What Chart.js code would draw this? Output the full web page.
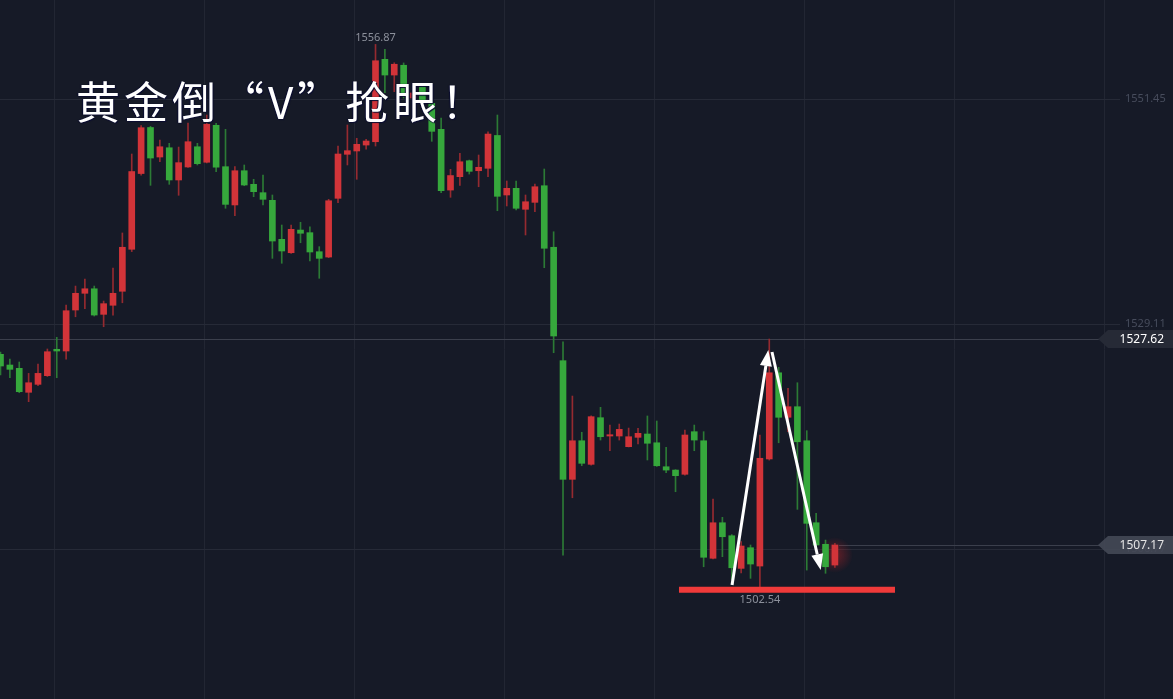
<!DOCTYPE html>
<html lang="zh-CN">
<head>
<meta charset="utf-8">
<title>黄金倒V</title>
<script src="https://cdn.jsdelivr.net/npm/chart.js@4.4.1/dist/chart.umd.min.js"></script>
<style>
    html, body { margin: 0; padding: 0; background: #161a27; }
    #wrap { position: relative; width: 1173px; height: 699px; background: #161a27; }
    #headline {
        position: absolute; left: 76px; top: 78px;
        font-family: "Noto Sans CJK SC", sans-serif; font-size: 44px; font-weight: 400;
        letter-spacing: 4px; line-height: 1; color: #ffffff; white-space: nowrap;
        text-shadow: 1px 1px 1px #0a0c30, -1px 0 1px #0a0c30;
    }
</style>
</head>
<body>
<div id="wrap">
    <canvas id="kChart"></canvas>
    <div id="headline">黄金倒“V”抢眼！</div>
</div>
<script>
// candle data (one entry per bar, oldest first)
const opens = [1526.10, 1525.04, 1524.71, 1522.33, 1523.12, 1523.98, 1526.60, 1526.43, 1530.50, 1532.16,
    1532.61, 1530.07, 1530.97, 1532.36, 1536.53, 1544.05, 1548.62, 1545.69, 1546.61, 1543.41,
    1544.70, 1546.71, 1545.17, 1548.84, 1544.73, 1540.93, 1544.33, 1542.98, 1542.15, 1541.39,
    1537.52, 1536.19, 1538.44, 1538.18, 1536.29, 1535.76, 1541.59, 1545.96, 1546.29, 1546.88,
    1547.21, 1555.39, 1553.83, 1554.80, 1551.55, 1552.64, 1551.02, 1548.44, 1542.41, 1543.74,
    1545.32, 1544.33, 1544.57, 1547.83, 1541.92, 1542.58, 1540.50, 1541.19, 1542.84, 1536.73,
    1525.47, 1513.69, 1517.52, 1515.18, 1519.81, 1517.99, 1517.99, 1516.93, 1517.86, 1518.19,
    1517.32, 1514.94, 1514.61, 1514.19, 1518.42, 1517.52, 1505.85, 1509.38, 1508.09, 1504.85,
    1506.90, 1505.08, 1515.71, 1524.27, 1519.85, 1520.90, 1517.52, 1509.38, 1507.24, 1505.18];
const highs = [1526.33, 1525.63, 1525.34, 1524.21, 1525.14, 1526.63, 1527.79, 1531.00, 1532.88, 1533.58,
    1532.88, 1531.39, 1534.67, 1538.15, 1545.99, 1548.80, 1548.74, 1547.38, 1547.05, 1546.68,
    1549.07, 1547.05, 1549.86, 1549.04, 1548.44, 1544.73, 1544.90, 1543.48, 1543.90, 1541.92,
    1538.94, 1538.94, 1539.21, 1538.77, 1536.79, 1541.49, 1546.78, 1548.87, 1547.55, 1547.45,
    1556.87, 1556.38, 1555.05, 1555.03, 1552.34, 1552.94, 1551.42, 1549.56, 1544.47, 1546.06,
    1545.39, 1545.89, 1548.20, 1549.86, 1543.31, 1543.31, 1541.92, 1543.01, 1544.50, 1538.27,
    1527.35, 1521.96, 1518.36, 1520.00, 1520.84, 1519.08, 1519.18, 1518.78, 1518.75, 1519.98,
    1519.48, 1516.87, 1514.65, 1518.58, 1519.08, 1518.42, 1511.73, 1509.92, 1508.20, 1507.50,
    1507.17, 1518.09, 1527.62, 1524.81, 1522.73, 1523.28, 1518.52, 1510.31, 1507.66, 1507.34];
const lows = [1524.05, 1523.78, 1522.29, 1521.40, 1523.00, 1523.90, 1523.78, 1525.63, 1529.83, 1530.63,
    1529.90, 1528.84, 1530.00, 1531.22, 1536.30, 1543.90, 1542.88, 1545.22, 1542.98, 1541.89,
    1544.65, 1544.90, 1545.10, 1544.23, 1540.60, 1539.86, 1542.84, 1541.75, 1540.93, 1535.63,
    1535.14, 1536.12, 1537.18, 1535.37, 1533.65, 1535.70, 1541.15, 1544.90, 1543.48, 1546.46,
    1546.78, 1552.08, 1552.18, 1551.55, 1551.35, 1550.85, 1547.25, 1542.15, 1541.69, 1542.86,
    1544.00, 1542.74, 1543.74, 1540.36, 1540.83, 1540.45, 1537.95, 1540.26, 1534.70, 1526.26,
    1506.17, 1511.86, 1515.04, 1515.10, 1517.59, 1516.53, 1517.59, 1516.90, 1517.20, 1515.61,
    1514.97, 1514.35, 1512.46, 1514.10, 1516.53, 1505.01, 1505.80, 1506.01, 1503.69, 1504.41,
    1503.86, 1502.54, 1515.60, 1517.32, 1518.42, 1510.71, 1504.68, 1506.87, 1504.36, 1504.95];
const closes = [1524.94, 1524.61, 1522.39, 1523.28, 1524.21, 1526.36, 1526.43, 1530.43, 1532.16, 1532.61,
    1530.00, 1531.13, 1532.16, 1536.73, 1544.25, 1548.60, 1545.59, 1546.71, 1543.41, 1545.13,
    1547.21, 1545.03, 1548.94, 1544.68, 1540.99, 1544.33, 1542.91, 1542.25, 1541.49, 1537.35,
    1536.36, 1538.51, 1538.12, 1536.26, 1535.63, 1541.35, 1545.99, 1546.32, 1546.95, 1547.28,
    1555.25, 1553.83, 1554.90, 1551.85, 1552.05, 1551.05, 1548.24, 1542.35, 1543.85, 1545.22,
    1544.27, 1544.67, 1547.97, 1541.79, 1542.58, 1540.60, 1541.25, 1542.74, 1536.63, 1527.92,
    1513.69, 1517.52, 1515.28, 1519.91, 1517.92, 1518.12, 1518.65, 1517.92, 1518.26, 1517.27,
    1515.04, 1514.61, 1514.05, 1518.09, 1517.59, 1505.95, 1509.38, 1507.99, 1504.91, 1507.07,
    1505.28, 1515.78, 1524.27, 1519.85, 1520.90, 1517.42, 1509.32, 1507.17, 1505.01, 1507.17];

// axis ticks
const priceTicks = [1506.77, 1529.11, 1551.45];
const gridColumns = [5.81, 21.81, 37.81, 53.81, 69.81, 85.81, 101.81, 117.81];

// markers on the chart
const highIndex = 40, highValue = 1556.87;
const lowIndex = 81, lowValue = 1502.54;
const priceLine = 1527.62;
const lastPrice = 1507.17;
const supportLevel = 1502.72;
const supportSpan = [72.37, 95.41];
const arrowUp = [[78.03, 1503.19], [81.90, 1526.53]];
const arrowDown = [[82.29, 1526.33], [87.49, 1504.68]];

const UP = '#d23439', DOWN = '#36a83c';
const UP_WICK = '#952a30', DOWN_WICK = '#2c7a35';

const isUp = closes.map((c, i) => c >= opens[i]);
const bodyData = opens.map((o, i) => ({ x: i, y: [o, closes[i]] }));
const wickData = lows.map((l, i) => ({ x: i, y: [l, highs[i]] }));

function drawTag(ctx, y, fill, textColor, text) {
    ctx.save();
    ctx.fillStyle = fill;
    ctx.beginPath();
    ctx.moveTo(1098, y);
    ctx.lineTo(1108, y - 9);
    ctx.lineTo(1173, y - 9);
    ctx.lineTo(1173, y + 9);
    ctx.lineTo(1108, y + 9);
    ctx.closePath();
    ctx.fill();
    ctx.fillStyle = textColor;
    ctx.font = '12px "Noto Sans", sans-serif';
    ctx.textAlign = 'right';
    ctx.textBaseline = 'middle';
    ctx.fillText(text, 1164, y + 1);
    ctx.restore();
}

function drawArrow(ctx, x1, y1, x2, y2) {
    const ang = Math.atan2(y2 - y1, x2 - x1);
    const len = 16, half = 6;
    const bx = x2 - Math.cos(ang) * len, by = y2 - Math.sin(ang) * len;
    ctx.save();
    ctx.strokeStyle = '#ffffff';
    ctx.fillStyle = '#ffffff';
    ctx.lineWidth = 3;
    ctx.beginPath();
    ctx.moveTo(x1, y1);
    ctx.lineTo(bx, by);
    ctx.stroke();
    ctx.beginPath();
    ctx.moveTo(x2, y2);
    ctx.lineTo(bx + Math.sin(ang) * half, by - Math.cos(ang) * half);
    ctx.lineTo(bx - Math.sin(ang) * half, by + Math.cos(ang) * half);
    ctx.closePath();
    ctx.fill();
    ctx.restore();
}

const overlayPlugin = {
    id: 'overlay',
    beforeDatasetsDraw(chart) {
        const ctx = chart.ctx, xs = chart.scales.x, ys = chart.scales.y;
        ctx.save();
        // current price lines
        ctx.strokeStyle = '#3b3f4c';
        ctx.lineWidth = 1;
        let y = Math.round(ys.getPixelForValue(priceLine)) + 0.5;
        ctx.beginPath(); ctx.moveTo(0, y); ctx.lineTo(1100, y); ctx.stroke();
        const last = opens.length - 1;
        y = Math.round(ys.getPixelForValue(lastPrice)) + 0.5;
        ctx.beginPath(); ctx.moveTo(xs.getPixelForValue(last) + 4, y); ctx.lineTo(1100, y); ctx.stroke();
        // glow on the live candle
        const gx = xs.getPixelForValue(last);
        const gy = ys.getPixelForValue((opens[last] + closes[last]) / 2);
        const g = ctx.createRadialGradient(gx, gy, 0, gx, gy, 18);
        g.addColorStop(0, 'rgba(255,40,40,0.35)');
        g.addColorStop(1, 'rgba(255,40,40,0)');
        ctx.fillStyle = g;
        ctx.fillRect(gx - 20, gy - 20, 40, 40);
        ctx.restore();
    },
    afterDatasetsDraw(chart) {
        const ctx = chart.ctx, xs = chart.scales.x, ys = chart.scales.y;
        ctx.save();
        // support bar
        ctx.strokeStyle = '#f03a3a';
        ctx.lineWidth = 6;
        const sy = ys.getPixelForValue(supportLevel);
        ctx.beginPath();
        ctx.moveTo(xs.getPixelForValue(supportSpan[0]), sy);
        ctx.lineTo(xs.getPixelForValue(supportSpan[1]), sy);
        ctx.stroke();
        // V arrows
        [arrowUp, arrowDown].forEach(a => {
            drawArrow(ctx, xs.getPixelForValue(a[0][0]), ys.getPixelForValue(a[0][1]),
                xs.getPixelForValue(a[1][0]), ys.getPixelForValue(a[1][1]));
        });
        // high / low labels
        ctx.font = '11px "Noto Sans", sans-serif';
        ctx.textAlign = 'center';
        ctx.fillStyle = '#8c909b';
        ctx.textBaseline = 'bottom';
        ctx.fillText(highValue.toFixed(2), xs.getPixelForValue(highIndex), ys.getPixelForValue(highValue) - 1);
        ctx.textBaseline = 'top';
        ctx.fillText(lowValue.toFixed(2), xs.getPixelForValue(lowIndex), ys.getPixelForValue(lowValue) + 3);
        ctx.restore();
        // price tags on the right
        drawTag(ctx, Math.round(ys.getPixelForValue(priceLine)), '#262a36', '#ffffff', priceLine.toFixed(2));
        drawTag(ctx, Math.round(ys.getPixelForValue(lastPrice)), 'rgba(70,74,88,0.88)', '#e4e4e4', lastPrice.toFixed(2));
    }
};

new Chart(document.getElementById('kChart'), {
    type: 'bar',
    data: {
        datasets: [
            {
                label: 'body',
                data: bodyData,
                backgroundColor: isUp.map(u => u ? UP : DOWN),
                barThickness: 6,
                minBarLength: 1,
                borderWidth: 0,
                grouped: false
            },
            {
                label: 'wick',
                data: wickData,
                backgroundColor: isUp.map(u => u ? UP_WICK : DOWN_WICK),
                barThickness: 1,
                borderWidth: 0,
                grouped: false
            }
        ]
    },
    options: {
        responsive: true,
        maintainAspectRatio: false,
        animation: false,
        layout: { padding: 0, autoPadding: false },
        plugins: { legend: { display: false }, tooltip: { enabled: false } },
        scales: {
            x: {
                type: 'linear',
                offset: false,
                min: -0.053,
                max: 119.41,
                afterBuildTicks: s => { s.ticks = gridColumns.map(v => ({ value: v })); },
                afterFit: s => { s.height = 0; s.paddingLeft = 0; s.paddingRight = 0; },
                ticks: { display: false },
                grid: { color: '#222633', drawTicks: false, offset: false },
                border: { display: false }
            },
            y: {
                type: 'linear',
                position: 'right',
                min: 1491.88,
                max: 1561.28,
                afterBuildTicks: s => { s.ticks = priceTicks.map(v => ({ value: v })); },
                afterFit: s => { s.width = 53; s.paddingTop = 0; s.paddingBottom = 0; },
                ticks: {
                    color: '#474c5c',
                    padding: 5,
                    font: { size: 11, family: '"Noto Sans", sans-serif' },
                    callback: v => v.toFixed(2)
                },
                grid: { color: '#262a37', drawTicks: false },
                border: { display: false }
            }
        }
    },
    plugins: [overlayPlugin]
});
</script>
</body>
</html>
